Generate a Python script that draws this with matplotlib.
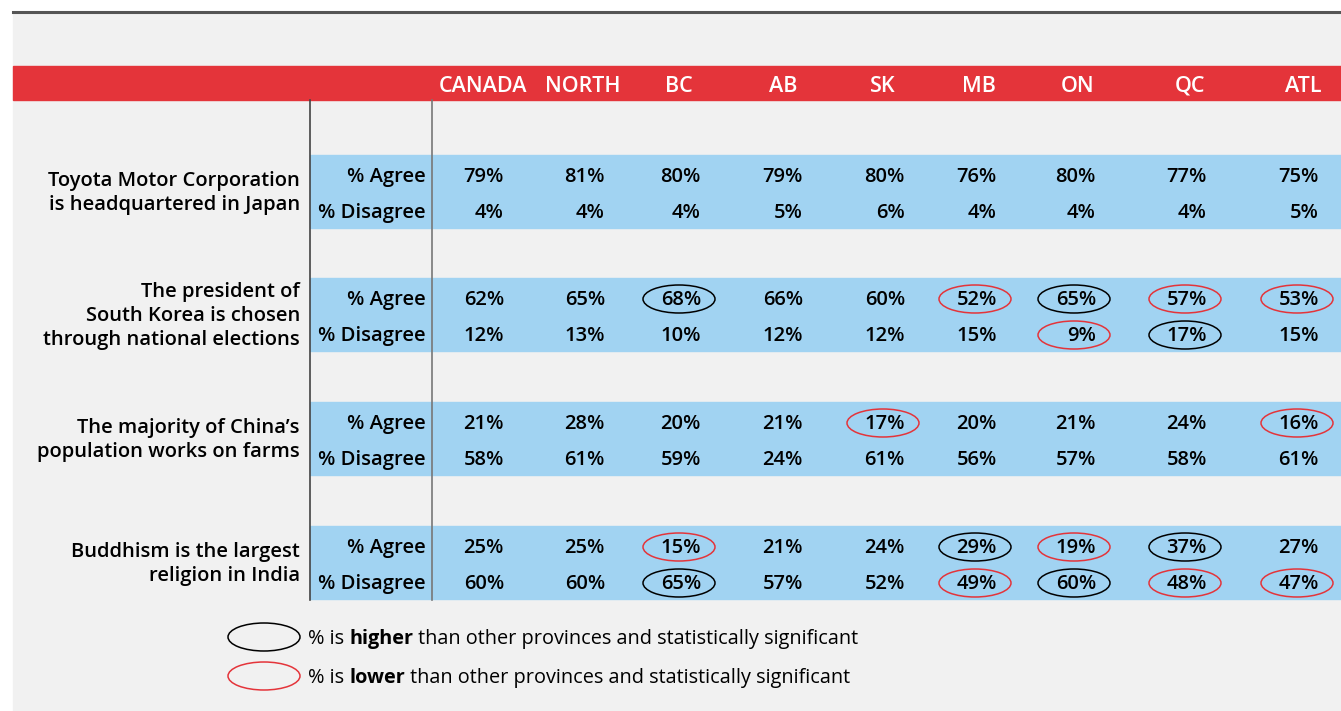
import matplotlib.pyplot as plt
from matplotlib.patches import Rectangle, Ellipse

regions = ["CANADA", "NORTH", "BC", "AB", "SK", "MB", "ON", "QC", "ATL"]
questions = [
    "Toyota Motor Corporation\nis headquartered in Japan",
    "The president of\nSouth Korea is chosen\nthrough national elections",
    "The majority of China\u2019s\npopulation works on farms",
    "Buddhism is the largest\nreligion in India",
]
agree = [
    [79, 81, 80, 79, 80, 76, 80, 77, 75],
    [62, 65, 68, 66, 60, 52, 65, 57, 53],
    [21, 28, 20, 21, 17, 20, 21, 24, 16],
    [25, 25, 15, 21, 24, 29, 19, 37, 27],
]
disagree = [
    [4, 4, 4, 5, 6, 4, 4, 4, 5],
    [12, 13, 10, 12, 12, 15, 9, 17, 15],
    [58, 61, 59, 24, 61, 56, 57, 58, 61],
    [60, 60, 65, 57, 52, 49, 60, 48, 47],
]
# significance flags: 1 = higher (black ring), -1 = lower (red ring)
agree_sig = [
    [0, 0, 0, 0, 0, 0, 0, 0, 0],
    [0, 0, 1, 0, 0, -1, 1, -1, -1],
    [0, 0, 0, 0, -1, 0, 0, 0, -1],
    [0, 0, -1, 0, 0, 1, -1, 1, 0],
]
disagree_sig = [
    [0, 0, 0, 0, 0, 0, 0, 0, 0],
    [0, 0, 0, 0, 0, 0, -1, 1, 0],
    [0, 0, 0, 0, 0, 0, 0, 0, 0],
    [0, 0, 1, 0, 0, -1, 1, -1, -1],
]

RED = "#e4343a"
BLUE = "#a1d3f2"
BG = "#f1f1f1"
FONT = "Open Sans"
FS = 14.5

W, H = 1341, 711
fig = plt.figure(figsize=(W / 100, H / 100), dpi=100)
ax = fig.add_axes([0, 0, 1, 1])
ax.set_xlim(0, W)
ax.set_ylim(H, 0)
ax.axis("off")

ax.add_patch(Rectangle((13, 13), W - 13, H - 13, color=BG, zorder=0))
ax.plot([13, W], [12, 12], color="#555555", lw=2.2, zorder=3)
ax.add_patch(Rectangle((13, 66), W - 13, 34, color=RED, zorder=1))

header_x = [483, 583, 679, 783, 883, 979, 1078, 1190, 1303]
value_right = [504, 605, 701, 803, 905, 997, 1096, 1207, 1319]
band_top = [155, 278, 402, 526]

for name, x in zip(regions, header_x):
    ax.text(x, 86, name, color="white", fontsize=15.5, fontfamily=FONT,
            fontweight="semibold", ha="center", va="center", zorder=4)

for i, q in enumerate(questions):
    top = band_top[i]
    ax.add_patch(Rectangle((310, top), W - 310, 73, color=BLUE, zorder=1))
    ax.text(300, top + 38, q, fontsize=FS, fontfamily=FONT, fontweight="semibold",
            ha="right", va="center", linespacing=1.3, zorder=4)
    for row, (vals, sig) in enumerate([(agree[i], agree_sig[i]),
                                       (disagree[i], disagree_sig[i])]):
        y = top + 22 + row * 36
        label = "% Agree" if row == 0 else "% Disagree"
        ax.text(426, y, label, fontsize=FS, fontfamily=FONT, fontweight="semibold",
                ha="right", va="center", zorder=4)
        for j, v in enumerate(vals):
            ax.text(value_right[j], y, f"{v}%", fontsize=FS, fontfamily=FONT,
                    fontweight="semibold", ha="right", va="center", zorder=4)
            if sig[j] != 0:
                col = "black" if sig[j] > 0 else RED
                ax.add_patch(Ellipse((value_right[j] - 22, y - 1), 72, 28, fill=False,
                                     edgecolor=col, lw=1.1, zorder=5))

ax.plot([310, 310], [100, 600], color="#444444", lw=1.2, zorder=3)
ax.plot([432, 432], [100, 600], color="#777777", lw=1.2, zorder=3)

# legend
fig.canvas.draw()
renderer = fig.canvas.get_renderer()
legend = [("black", "higher", 637), (RED, "lower", 676)]
for col, word, y in legend:
    ax.add_patch(Ellipse((264, y), 72, 28, fill=False, edgecolor=col, lw=1.1, zorder=5))
    x = 308
    for part, wt in [("% is ", "normal"), (word, "bold"),
                     (" than other provinces and statistically significant", "normal")]:
        t = ax.text(x, y + 2, part, fontsize=14.3, fontfamily=FONT, fontweight=wt,
                    ha="left", va="center", zorder=4)
        bb = t.get_window_extent(renderer)
        x += bb.width

fig.savefig("out.png", dpi=100, facecolor="white")
